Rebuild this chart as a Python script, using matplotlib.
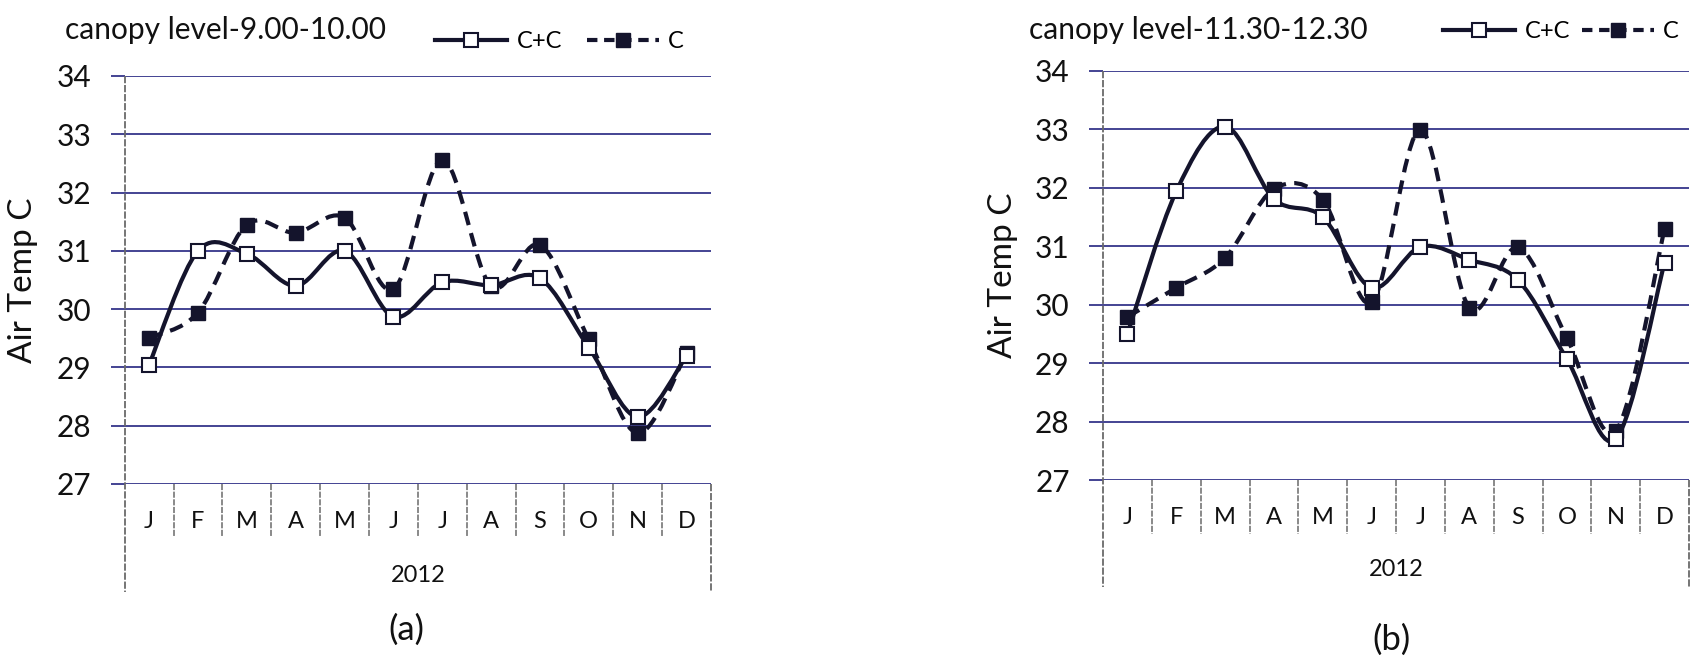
import numpy as np
import matplotlib
matplotlib.use("Agg")
import matplotlib.pyplot as plt
from matplotlib.path import Path
from matplotlib.patches import PathPatch
from matplotlib.lines import Line2D
import matplotlib.transforms as mtransforms

plt.rcParams['font.family'] = ['Lato', 'DejaVu Sans']

months = ["J", "F", "M", "A", "M", "J", "J", "A", "S", "O", "N", "D"]
year_label = "2012"
series_names = ["C+C", "C"]

# Panel (a): canopy level 9.00-10.00
a_title = "canopy level-9.00-10.00"
a_cc = [29.05, 31.00, 30.95, 30.40, 31.00, 29.87, 30.46, 30.41, 30.53, 29.34, 28.15, 29.20]
a_c = [29.51, 29.94, 31.45, 31.31, 31.57, 30.34, 32.56, 30.39, 31.10, 29.48, 27.87, 29.25]

# Panel (b): canopy level 11.30-12.30
b_title = "canopy level-11.30-12.30"
b_cc = [29.50, 31.94, 33.05, 31.81, 31.50, 30.29, 30.99, 30.77, 30.42, 29.07, 27.70, 30.72]
b_c = [29.79, 30.29, 30.80, 31.98, 31.80, 30.04, 32.99, 29.95, 30.98, 29.43, 27.84, 31.30]

y_ticks = [27, 28, 29, 30, 31, 32, 33, 34]
y_label = "Air Temp C"

W, H = 1695, 661
fig = plt.figure(figsize=(W / 100, H / 100), dpi=100)

LINE = '#14142c'
GRID = '#35358a'
DIV = '#6a6a6a'
TXT = '#111111'


def smooth_path(xs, ys):
    xs = np.asarray(xs, float)
    ys = np.asarray(ys, float)
    n = len(xs)
    verts = [(xs[0], ys[0])]
    codes = [Path.MOVETO]
    for i in range(n - 1):
        i0 = max(i - 1, 0)
        i3 = min(i + 2, n - 1)
        c1 = (xs[i] + (xs[i + 1] - xs[i0]) / 6.0, ys[i] + (ys[i + 1] - ys[i0]) / 6.0)
        c2 = (xs[i + 1] - (xs[i3] - xs[i]) / 6.0, ys[i + 1] - (ys[i3] - ys[i]) / 6.0)
        verts += [c1, c2, (xs[i + 1], ys[i + 1])]
        codes += [Path.CURVE4] * 3
    return Path(verts, codes)


def px(x, y):
    return x / W, 1 - y / H


def make_panel(left, right, top, bottom, title, title_xy, cc, c, leg_xy, colsp,
               div_bot, box_bot, mon_y, yr_y, lab, lab_xy, ylab_x):
    l, b = px(left, bottom)
    r, t = px(right, top)
    ax = fig.add_axes([l, b, r - l, t - b])
    hpx = bottom - top
    x = np.arange(len(months))
    ax.set_xlim(-0.5, len(months) - 0.5)
    ax.set_ylim(27, 34)
    for s in ax.spines.values():
        s.set_visible(False)
    ax.set_yticks(y_ticks)
    ax.set_yticklabels([str(v) for v in y_ticks], fontsize=21.5, color=TXT)
    ax.tick_params(axis='y', length=10, width=1.3, color=GRID, pad=14, direction='out')
    ax.set_xticks([])
    ax.grid(axis='y', color=GRID, lw=1.3)
    ax.set_axisbelow(True)
    ax.set_ylabel(y_label, fontsize=24, color=TXT)
    ax.yaxis.set_label_coords((ylab_x - left) / (right - left), 0.5)

    tr = mtransforms.blended_transform_factory(ax.transData, ax.transAxes)
    dfrac = -(div_bot - bottom) / hpx
    bfrac = -(box_bot - bottom) / hpx
    ax.plot([-0.5, -0.5], [1.0, bfrac], transform=tr, color=DIV, lw=1.3, clip_on=False,
            ls=(0, (4, 1)))
    ax.plot([11.5, 11.5], [0.0, bfrac], transform=tr, color=DIV, lw=1.3, clip_on=False,
            ls=(0, (4, 1)))
    for k in range(1, len(months)):
        ax.plot([k - 0.5, k - 0.5], [0.0, dfrac], transform=tr, color=DIV, lw=1.1,
                clip_on=False, ls=(0, (4, 1)))
    for i, m in enumerate(months):
        ax.text(i, -(mon_y - bottom) / hpx, m, transform=tr, ha='center', va='center',
                fontsize=17, color=TXT)
    ax.text(5.5, -(yr_y - bottom) / hpx, year_label, transform=tr, ha='center', va='center',
            fontsize=17, color=TXT)
    fig.text(*px(*lab_xy), lab, ha='center', va='center', fontsize=25, color=TXT)
    fig.text(*px(*title_xy), title, ha='left', va='center', fontsize=21.5, color=TXT)

    # C (dashed, filled squares)
    ax.add_patch(PathPatch(smooth_path(x, c), fill=False, edgecolor=LINE, lw=3.0,
                           linestyle=(0, (3.3, 2.0)), zorder=3, capstyle='butt'))
    ax.plot(x, c, ls='none', marker='s', ms=10, mfc=LINE, mec=LINE, zorder=4)
    # C+C (solid, open squares)
    ax.add_patch(PathPatch(smooth_path(x, cc), fill=False, edgecolor=LINE, lw=3.0,
                           zorder=5))
    ax.plot(x, cc, ls='none', marker='s', ms=10, mfc='white', mec=LINE, mew=1.5, zorder=6)

    h1 = Line2D([], [], color=LINE, lw=3.0, marker='s', ms=10, mfc='white', mec=LINE, mew=1.5)
    h2 = Line2D([], [], color=LINE, lw=3.0, ls=(0, (2.5, 1.6)), marker='s', ms=10, mfc=LINE, mec=LINE)
    fig.legend([h1, h2], series_names, loc='center left', bbox_to_anchor=px(*leg_xy),
               ncol=2, frameon=False, fontsize=17, handlelength=3.05, handletextpad=0.4,
               columnspacing=colsp, borderpad=0, borderaxespad=0, markerscale=1.0)
    return ax


make_panel(124.7, 711, 76, 484, a_title, (65, 30), a_cc, a_c, (435, 42), 1.05,
           537, 592, 522, 576, "(a)", (406, 630), 38)
make_panel(1103, 1689, 71, 480, b_title, (1029, 30), b_cc, b_c, (1443, 32), 0.5,
           534, 587, 517, 570, "(b)", (1391, 640), 1018)

fig.savefig("out.png", dpi=100)
